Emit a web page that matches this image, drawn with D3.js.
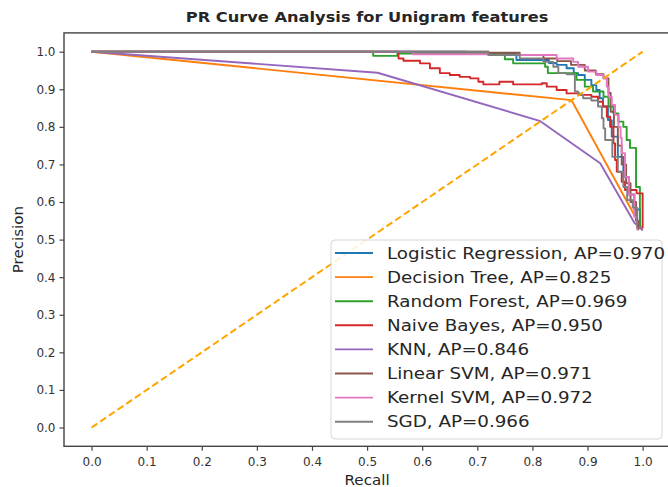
<!DOCTYPE html>
<html>
<head>
<meta charset="utf-8">
<script src="https://cdn.jsdelivr.net/npm/d3@7/dist/d3.min.js"></script>
<style>
    body { margin: 0; background: #fff; }
    svg { display: block; font-family: 'DejaVu Sans', sans-serif; }
</style>
</head>
<body>
<div id="chart"></div>
<script>
// ---- data ----
const models = ['Logistic Regression', 'Decision Tree', 'Random Forest', 'Naive Bayes',
    'KNN', 'Linear SVM', 'Kernel SVM', 'SGD'];
const apScores = [0.970, 0.825, 0.969, 0.950, 0.846, 0.971, 0.972, 0.966];
const colors = ['#1f77b4', '#ff7f0e', '#2ca02c', '#d62728', '#9467bd', '#8c564b', '#e377c2', '#7f7f7f'];
// many-threshold models look like staircases, DT and KNN only have a few points
const stepped = [true, false, true, true, false, true, true, true];

// [recall, precision], increasing recall
const lrCurve = [[0, 1], [0.68, 0.995], [0.771, 0.978], [0.83, 0.970], [0.844, 0.965], [0.862, 0.956],
    [0.875, 0.943], [0.883, 0.938], [0.895, 0.925], [0.907, 0.911], [0.916, 0.898], [0.922, 0.876],
    [0.928, 0.854], [0.937, 0.818], [0.944, 0.774], [0.955, 0.72], [0.965, 0.667], [0.975, 0.62],
    [0.985, 0.58], [0.995, 0.53]];
const dtCurve = [[0, 1], [0.871, 0.871], [1, 0.525]];
const rfCurve = [[0, 1], [0.511, 0.989], [0.555, 0.995], [0.75, 0.98], [0.765, 0.969], [0.823, 0.96],
    [0.828, 0.943], [0.88, 0.925], [0.895, 0.907], [0.91, 0.894], [0.929, 0.88], [0.938, 0.854],
    [0.947, 0.836], [0.956, 0.814], [0.965, 0.80], [0.971, 0.765], [0.977, 0.744], [0.988, 0.64],
    [0.995, 0.53]];
const nbCurve = [[0, 1], [0.557, 0.982], [0.566, 0.976], [0.596, 0.969], [0.614, 0.956], [0.632, 0.943],
    [0.65, 0.938], [0.668, 0.933], [0.687, 0.929], [0.702, 0.92], [0.711, 0.913], [0.74, 0.92],
    [0.765, 0.913], [0.817, 0.916], [0.826, 0.907], [0.844, 0.898], [0.862, 0.889], [0.886, 0.885],
    [0.907, 0.88], [0.919, 0.867], [0.928, 0.854], [0.935, 0.827], [0.941, 0.80], [0.947, 0.756],
    [0.950, 0.712], [0.953, 0.681], [0.962, 0.654], [0.968, 0.632], [0.989, 0.623], [1.0, 0.53]];
const knnCurve = [[0, 1], [0.519, 0.944], [0.813, 0.816], [0.923, 0.703], [0.985, 0.545], [1, 0.525]];
const linSvmCurve = [[0, 1], [0.72, 0.997], [0.777, 0.991], [0.82, 0.982], [0.845, 0.975], [0.87, 0.965],
    [0.895, 0.95], [0.915, 0.94], [0.929, 0.929], [0.938, 0.89], [0.942, 0.84], [0.948, 0.80],
    [0.955, 0.75], [0.962, 0.70], [0.97, 0.65], [0.978, 0.6], [0.988, 0.55], [0.992, 0.525]];
const kerSvmCurve = [[0, 1], [0.583, 0.993], [0.72, 0.991], [0.844, 0.982], [0.874, 0.973], [0.883, 0.96],
    [0.901, 0.947], [0.916, 0.938], [0.929, 0.929], [0.935, 0.907], [0.938, 0.88], [0.944, 0.858],
    [0.95, 0.832], [0.956, 0.80], [0.96, 0.771], [0.962, 0.73], [0.968, 0.667], [0.975, 0.62],
    [0.985, 0.56], [0.99, 0.525]];
const sgdCurve = [[0, 1], [0.72, 0.991], [0.777, 0.982], [0.82, 0.973], [0.838, 0.96], [0.847, 0.943],
    [0.862, 0.94], [0.877, 0.894], [0.883, 0.885], [0.892, 0.876], [0.907, 0.87], [0.919, 0.854],
    [0.926, 0.823], [0.929, 0.796], [0.932, 0.765], [0.945, 0.72], [0.955, 0.68], [0.965, 0.64],
    [0.972, 0.605], [0.982, 0.585], [0.99, 0.53]];
const curves = [lrCurve, dtCurve, rfCurve, nbCurve, knnCurve, linSvmCurve, kerSvmCurve, sgdCurve];

const chanceLine = [[0, 0], [1, 1]];
const tickValues = [0, 0.1, 0.2, 0.3, 0.4, 0.5, 0.6, 0.7, 0.8, 0.9, 1.0];

// ---- layout ----
const WIDTH = 668, HEIGHT = 487;
const PLOT = { left: 64, right: 670.2, top: 32.9, bottom: 446.3 };
const LEGEND = { x: 331, y: 240, w: 331, h: 199, row0: 253, rowStep: 24.1 };
const TEXT_SX = 1.12;   // the reference is stretched sideways a bit
const LEGEND_SX = 1.18;

const svg = d3.select('#chart').append('svg')
    .attr('width', WIDTH)
    .attr('height', HEIGHT);

const x = d3.scaleLinear().domain([-0.05, 1.05]).range([PLOT.left, PLOT.right]);
const y = d3.scaleLinear().domain([-0.05, 1.05]).range([PLOT.bottom, PLOT.top]);

// stretched text helper
function label(parent, px, py, text, size, anchor, opts = {}) {
    const sx = opts.sx || TEXT_SX;
    return parent.append('text')
        .attr('transform', 'translate(' + px + ',' + py + ')' + (opts.rotate ? ' rotate(' + opts.rotate + ')' : '') + ' scale(' + sx + ',1)')
        .attr('text-anchor', anchor)
        .attr('dy', '0.36em')
        .attr('font-size', size)
        .attr('font-weight', opts.bold ? 'bold' : null)
        .attr('fill', '#262626')
        .text(text);
}

// axes
const xAxis = svg.append('g')
    .attr('transform', 'translate(0,' + PLOT.bottom + ')')
    .call(d3.axisBottom(x).tickValues(tickValues).tickFormat(d3.format('.1f')).tickSize(4.5).tickPadding(4));
const yAxis = svg.append('g')
    .attr('transform', 'translate(' + PLOT.left + ',0)')
    .call(d3.axisLeft(y).tickValues(tickValues).tickFormat(d3.format('.1f')).tickSize(4.5).tickPadding(4));

[xAxis, yAxis].forEach(ax => {
    ax.select('.domain').remove();
    ax.selectAll('.tick line').attr('stroke', '#444').attr('stroke-width', 1.2);
    ax.selectAll('.tick text')
        .attr('font-size', 12)
        .attr('font-family', 'DejaVu Sans, sans-serif')
        .attr('fill', '#333');
});
xAxis.selectAll('.tick text').attr('dy', '0.9em');

// curves, clipped to the plot box
svg.append('clipPath').attr('id', 'plot-clip')
    .append('rect')
    .attr('x', PLOT.left).attr('y', PLOT.top)
    .attr('width', PLOT.right - PLOT.left).attr('height', PLOT.bottom - PLOT.top);

const plot = svg.append('g').attr('clip-path', 'url(#plot-clip)');

curves.forEach((pts, i) => {
    const line = d3.line()
        .x(d => x(d[0]))
        .y(d => y(d[1]))
        .curve(stepped[i] ? d3.curveStepAfter : d3.curveLinear);
    plot.append('path')
        .attr('d', line(pts))
        .attr('fill', 'none')
        .attr('stroke', colors[i])
        .attr('stroke-width', 1.9)
        .attr('stroke-linejoin', 'round');
});

plot.append('path')
    .attr('d', d3.line().x(d => x(d[0])).y(d => y(d[1]))(chanceLine))
    .attr('fill', 'none')
    .attr('stroke', '#ffa500')
    .attr('stroke-width', 2)
    .attr('stroke-dasharray', '7,3.5');

// frame
svg.append('rect')
    .attr('x', PLOT.left).attr('y', PLOT.top)
    .attr('width', PLOT.right - PLOT.left).attr('height', PLOT.bottom - PLOT.top)
    .attr('fill', 'none')
    .attr('stroke', '#444')
    .attr('stroke-width', 1.4);

// legend
const legend = svg.append('g');
legend.append('rect')
    .attr('x', LEGEND.x).attr('y', LEGEND.y)
    .attr('width', LEGEND.w).attr('height', LEGEND.h)
    .attr('rx', 4)
    .attr('fill', 'rgba(255,255,255,0.85)')
    .attr('stroke', '#d6d6d6')
    .attr('stroke-width', 1);

models.forEach((name, i) => {
    const ry = LEGEND.row0 + i * LEGEND.rowStep;
    legend.append('line')
        .attr('x1', LEGEND.x + 4).attr('x2', LEGEND.x + 42)
        .attr('y1', ry).attr('y2', ry)
        .attr('stroke', colors[i])
        .attr('stroke-width', 1.9);
    label(legend, LEGEND.x + 56, ry, name + ', AP=' + apScores[i].toFixed(3), 15.5, 'start', { sx: LEGEND_SX });
});

// titles
label(svg, (PLOT.left + PLOT.right) / 2, 17, 'PR Curve Analysis for Unigram features', 14.5, 'middle', { bold: true });
label(svg, (PLOT.left + PLOT.right) / 2, 480, 'Recall', 13.5, 'middle');
label(svg, 18, (PLOT.top + PLOT.bottom) / 2, 'Precision', 13.5, 'middle', { rotate: -90 });
</script>
</body>
</html>
